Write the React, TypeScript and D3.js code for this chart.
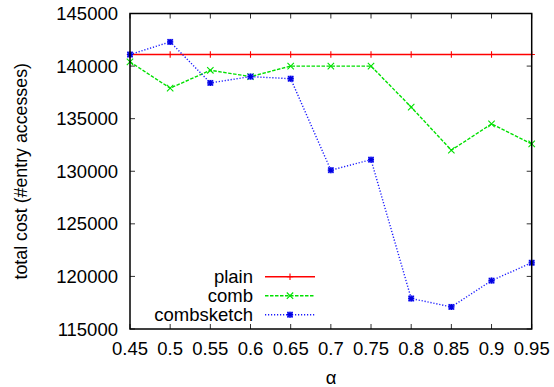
import React from "react";
import * as d3 from "d3";

const alphas = [0.45, 0.5, 0.55, 0.6, 0.65, 0.7, 0.75, 0.8, 0.85, 0.9, 0.95];
const plain = [141100, 141100, 141100, 141100, 141100, 141100, 141100, 141100, 141100, 141100, 141100];
const comb = [140400, 137900, 139600, 139000, 140000, 140000, 140000, 136100, 132000, 134500, 132600];
const combsketch = [141100, 142300, 138400, 139000, 138800, 130100, 131100, 117900, 117100, 119600, 121300];
const yTicks = [115000, 120000, 125000, 130000, 135000, 140000, 145000];
const xTickLabels = ["0.45", "0.5", "0.55", "0.6", "0.65", "0.7", "0.75", "0.8", "0.85", "0.9", "0.95"];
const seriesNames = ["plain", "comb", "combsketch"];

const W = 554, H = 387;
const L = 130, R = 531.7, T = 13.5, B = 329;
const FONT = "'Liberation Sans', Arial, Helvetica, sans-serif";

function Marker({ kind, x, y, color }: { kind: number; x: number; y: number; color: string }) {
  const s = 3.2;
  if (kind === 0) {
    return <path d={`M${x - s},${y}H${x + s}M${x},${y - s}V${y + s}`} stroke={color} strokeWidth={1.1} fill="none" />;
  }
  if (kind === 1) {
    return <path d={`M${x - s},${y - s}L${x + s},${y + s}M${x - s},${y + s}L${x + s},${y - s}`} stroke={color} strokeWidth={1.1} fill="none" />;
  }
  return (
    <g>
      <rect x={x - 3} y={y - 3} width={6} height={6} fill="#5a5aff" />
      <path d={`M${x - 2.5},${y - 2.5}L${x + 2.5},${y + 2.5}M${x - 2.5},${y + 2.5}L${x + 2.5},${y - 2.5}M${x - 3},${y}H${x + 3}M${x},${y - 3}V${y + 3}`} stroke="#0000e0" strokeWidth={1.2} fill="none" />
    </g>
  );
}

export default function App() {
  const x = d3.scaleLinear().domain([0.45, 0.95]).range([L, R]);
  const y = d3.scaleLinear().domain([115000, 145000]).range([B, T]);
  const all = [plain, comb, combsketch];
  const colors = ["#ff0000", "#00e000", "#1a1aff"];
  const dashes = ["none", "3.5,1.5", "1.2,1.8"];
  const widths = [1.5, 1.4, 1.4];
  const line = d3.line<number>().x((_, i) => x(alphas[i])).y((d) => y(d));
  const legendY = [276.7, 295.7, 314.7];
  const tickLen = 5;

  return (
    <svg width={W} height={H} style={{ position: "absolute", left: 0, top: 0, background: "#fff" }} fontFamily={FONT}>
      {yTicks.map((t) => (
        <g key={"y" + t}>
          <line x1={L} x2={L + tickLen} y1={y(t)} y2={y(t)} stroke="#333" strokeWidth={1} />
          <line x1={R} x2={R - tickLen} y1={y(t)} y2={y(t)} stroke="#333" strokeWidth={1} />
          <text x={L - 12} y={y(t)} dy="0.36em" textAnchor="end" fontSize={18.5} fill="#000">{t}</text>
        </g>
      ))}
      {alphas.map((a, i) => (
        <g key={"x" + a}>
          <line x1={x(a)} x2={x(a)} y1={B} y2={B - tickLen} stroke="#333" strokeWidth={1} />
          <line x1={x(a)} x2={x(a)} y1={T} y2={T + tickLen} stroke="#333" strokeWidth={1} />
          <text x={x(a)} y={B + 19} dy="0.36em" textAnchor="middle" fontSize={18.5} fill="#000">{xTickLabels[i]}</text>
        </g>
      ))}
      {all.map((s, si) => (
        <g key={si}>
          <path d={line(s) || ""} fill="none" stroke={colors[si]} strokeWidth={widths[si]} strokeDasharray={dashes[si]} />
          {s.map((v, i) => (
            <Marker key={i} kind={si} x={x(alphas[i])} y={y(v)} color={colors[si]} />
          ))}
        </g>
      ))}
      {seriesNames.map((n, si) => (
        <g key={n}>
          <text x={253} y={legendY[si]} dy="0.36em" textAnchor="end" fontSize={18.5} fill="#000">{n}</text>
          <line x1={265} x2={315} y1={legendY[si]} y2={legendY[si]} stroke={colors[si]} strokeWidth={widths[si]} strokeDasharray={dashes[si]} />
          <Marker kind={si} x={290} y={legendY[si]} color={colors[si]} />
        </g>
      ))}
      <rect x={L} y={T} width={R - L} height={B - T} fill="none" stroke="#000" strokeWidth={1.5} />
      <text x={331} y={377} dy="0.36em" textAnchor="middle" fontSize={18.5} fill="#000">α</text>
      <text transform={`translate(21,${(T + B) / 2 + 0}) rotate(-90)`} dy="0.36em" textAnchor="middle" fontSize={17.8} fill="#000">total cost (#entry accesses)</text>
    </svg>
  );
}
